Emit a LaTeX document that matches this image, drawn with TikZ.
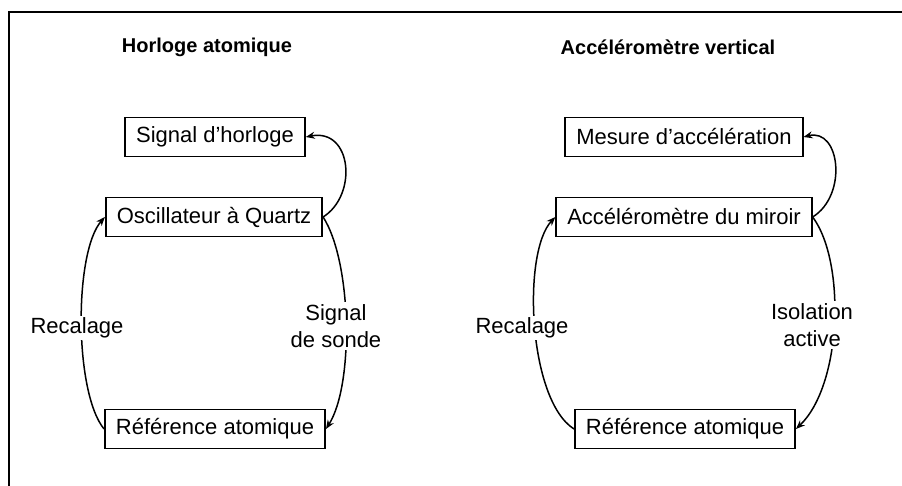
\documentclass[tikz,border=0pt]{standalone}
\usepackage{fontspec}
\setmainfont{Liberation Sans}
\usetikzlibrary{arrows.meta}
\begin{document}
\begin{tikzpicture}[x=1pt,y=-1pt,
  box/.style={draw,line width=1.8pt,minimum height=39pt,inner xsep=11pt,inner ysep=0pt,font=\fontsize{22}{26}\selectfont},
  lab/.style={fill=white,inner sep=2pt,align=center,font=\fontsize{22}{27}\selectfont},
  ttl/.style={font=\fontsize{20}{24}\selectfont\bfseries},
  conn/.style={line width=1.5pt,-{Stealth[length=9pt,width=7pt]}},
  frame/.style={line width=2.5pt}]
\useasboundingbox (0,0) rectangle (902,486);
\coordinate (fa) at (9,486);
\coordinate (fb) at (9,12);
\coordinate (fc) at (902,12);
\draw[frame] (fa) -- (fb) -- (fc);
% titles
\node[ttl] (t1) at (207,47) {Horloge atomique};
\node[ttl] (t2) at (668,47) {Accéléromètre vertical};
% left column
\node[box] (sh) at (215,137) {Signal d’horloge};
\node[box] (oq) at (214,217) {Oscillateur à Quartz};
\node[box] (ra) at (215,429) {Référence atomique};
% right column
\node[box] (ma) at (684,137) {Mesure d’accélération};
\node[box] (am) at (684,217) {Accéléromètre du miroir};
\node[box] (rb) at (685,429) {Référence atomique};
% connectors left
\draw[conn] (oq.east) .. controls (358,195) and (352,128) .. (sh.east);
\draw[conn] (oq.east) .. controls (352,262) and (354,385) .. (ra.east);
\draw[conn] (ra.west) .. controls (74,392) and (74,252) .. (oq.west);
% connectors right
\draw[conn] (am.east) .. controls (848,195) and (840,128) .. (ma.east);
\draw[conn] (am.east) .. controls (846,262) and (842,385) .. (rb.east);
\draw[conn] (rb.west) .. controls (528,400) and (522,252) .. (am.west);
% labels
\node[lab] (l1) at (77,328) {Recalage};
\node[lab] (l2) at (336,326) {Signal\\de sonde};
\node[lab] (l3) at (522,328) {Recalage};
\node[lab] (l4) at (812,325) {Isolation\\active};
\end{tikzpicture}
\end{document}
